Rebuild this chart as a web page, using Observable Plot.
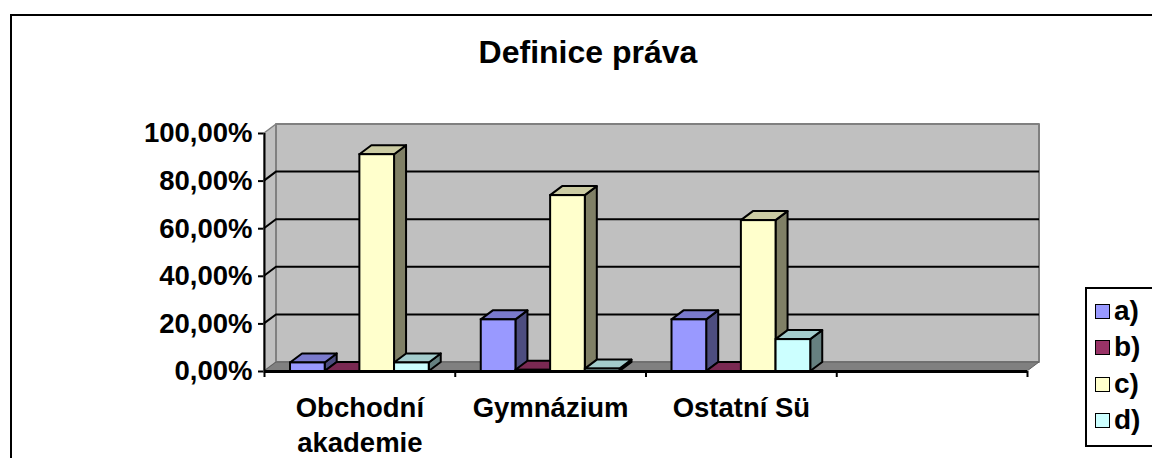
<!DOCTYPE html>
<html>
<head>
<meta charset="utf-8">
<script src="https://cdn.jsdelivr.net/npm/d3@7"></script>
<script src="https://cdn.jsdelivr.net/npm/@observablehq/plot@0.6"></script>
<style>
  html, body { margin: 0; padding: 0; background: #fff; width: 1152px; height: 458px; overflow: hidden; }
  #wrap { position: relative; width: 1152px; height: 458px; font-family: "Liberation Sans", Arial, sans-serif; font-weight: bold; color: #000; }
  #frame { position: absolute; left: 10px; top: 14px; width: 1200px; height: 500px; border: 2px solid #000; box-sizing: border-box; }
  #chart { position: absolute; left: 0; top: 0; }
  #title { position: absolute; left: 388px; width: 400px; top: 36px; text-align: center; font-size: 32px; line-height: 32px; white-space: nowrap; }
  #legend { position: absolute; left: 1085px; top: 287px; width: 120px; height: 160px; border: 2px solid #000; box-sizing: border-box; background: #fff; }
  .sw { position: absolute; left: 8px; width: 15px; height: 15px; border: 1.5px solid #000; box-sizing: border-box; }
  .lab { position: absolute; left: 27px; font-size: 28px; line-height: 28px; white-space: nowrap; }
  #chart svg .tick line, #chart svg g[aria-label$="-axis tick"] path { stroke-width: 2px; stroke: #000; }
</style>
</head>
<body>
<div id="wrap">
  <div id="frame"></div>
  <div id="chart"></div>
  <div id="title"></div>
  <div id="legend"></div>
</div>
<script>
// ---- data ----
const chartTitle = "Definice práva";
const categories = ["Obchodní\nakademie", "Gymnázium", "Ostatní Sü", ""];
const seriesNames = ["a)", "b)", "c)", "d)"];
const valuesA = [3.6, 21.7, 21.7];
const valuesB = [0, 0.5, 0];
const valuesC = [91.1, 73.9, 63.4];
const valuesD = [3.6, 1.0, 13.4];
const yTicks = [0, 20, 40, 60, 80, 100];

// ---- style ----
const seriesColors = ["#9999FF", "#993366", "#FFFFCC", "#CCFFFF"];
const GAP = 1.5, SLOT = seriesNames.length + GAP;
const DX = 12, DY = -9;

const seriesValues = [valuesA, valuesB, valuesC, valuesD];
const rows = [];
valuesA.forEach((_, ci) => seriesValues.forEach((vals, si) =>
  rows.push({ci, si, series: seriesNames[si], value: vals[ci]})));

const bx1 = d => d.ci + (GAP / 2 + d.si) / SLOT;
const bx2 = d => d.ci + (GAP / 2 + d.si + 1) / SLOT;
const shade = (c, k) => { const r = d3.rgb(c); return d3.rgb(r.r * k, r.g * k, r.b * k).formatHex(); };
const fmt = v => v.toFixed(2).replace(".", ",") + "%";

// 3D walls, gridlines, bar sides and tops, drawn through Plot's scales
function scene(index, scales) {
  const X = scales.x, Y = scales.y;
  const g = d3.create("svg:g");
  const poly = (pts, fill, stroke, sw) => g.append("polygon")
    .attr("points", pts.map(p => p.join(",")).join(" "))
    .attr("fill", fill).attr("stroke", stroke).attr("stroke-width", sw)
    .attr("stroke-linejoin", "round");
  const xL = X(0), xR = X(categories.length), y0 = Y(0), yT = Y(yTicks[yTicks.length - 1]);
  poly([[xL, y0], [xL, yT], [xL + DX, yT + DY], [xL + DX, y0 + DY]], "#C0C0C0", "#808080", 1.5);
  poly([[xL + DX, yT + DY], [xR + DX, yT + DY], [xR + DX, y0 + DY], [xL + DX, y0 + DY]], "#C0C0C0", "#808080", 2);
  poly([[xL, y0], [xR, y0], [xR + DX, y0 + DY], [xL + DX, y0 + DY]], "#808080", "#606060", 1);
  yTicks.slice(1, -1).forEach(v => {
    g.append("path")
      .attr("d", `M${xL},${Y(v)}L${xL + DX},${Y(v) + DY}L${xR + DX},${Y(v) + DY}`)
      .attr("fill", "none").attr("stroke", "#000").attr("stroke-width", 2);
  });
  rows.forEach(d => {
    const a = X(bx1(d)), b = X(bx2(d)), yb = Y(0), yv = Y(d.value);
    const c = seriesColors[d.si];
    poly([[b, yb], [b, yv], [b + DX, yv + DY], [b + DX, yb + DY]], shade(c, 0.5), "#000", 2);
    poly([[a, yv], [b, yv], [b + DX, yv + DY], [a + DX, yv + DY]], shade(c, 0.8), "#000", 2);
  });
  return g.node();
}

const plot = Plot.plot({
  width: 1152,
  height: 458,
  marginLeft: 264,
  marginRight: 125,
  marginTop: 133,
  marginBottom: 87,
  style: {fontFamily: "Liberation Sans, Arial, sans-serif", fontSize: "27.5px", fontWeight: "bold", color: "#000", background: "transparent", overflow: "visible"},
  x: {domain: [0, categories.length], ticks: d3.range(categories.length + 1), tickFormat: () => "", tickSize: 6, label: null},
  y: {domain: [yTicks[0], yTicks[yTicks.length - 1]], ticks: yTicks, tickFormat: fmt, tickSize: 6, tickPadding: 6, label: null},
  color: {domain: seriesNames, range: seriesColors},
  marks: [
    scene,
    Plot.rect(rows, {x1: bx1, x2: bx2, y1: 0, y2: "value", fill: "series", stroke: "#000", strokeWidth: 2}),
    Plot.ruleX([0], {y1: yTicks[0], y2: yTicks[yTicks.length - 1], stroke: "#000", strokeWidth: 2}),
    Plot.ruleY([0], {x1: 0, x2: categories.length, stroke: "#000", strokeWidth: 3}),
    Plot.text(categories.map((label, i) => ({i, label})), {
      x: d => d.i + 0.5, y: 0, text: "label", lineAnchor: "top", dy: 21, lineHeight: 1.27,
      fontSize: 27.5, fontWeight: "bold", fill: "#000"
    })
  ]
});
document.getElementById("chart").appendChild(plot);

document.getElementById("title").textContent = chartTitle;

const legend = document.getElementById("legend");
const swTops = [14.5, 51, 87.5, 124];
const labTops = [7.5, 44, 80.5, 117];
seriesNames.forEach((name, i) => {
  const sw = document.createElement("div");
  sw.className = "sw";
  sw.style.top = swTops[i] + "px";
  sw.style.background = seriesColors[i];
  legend.appendChild(sw);
  const lab = document.createElement("div");
  lab.className = "lab";
  lab.style.top = labTops[i] + "px";
  lab.textContent = name;
  legend.appendChild(lab);
});
</script>
</body>
</html>
